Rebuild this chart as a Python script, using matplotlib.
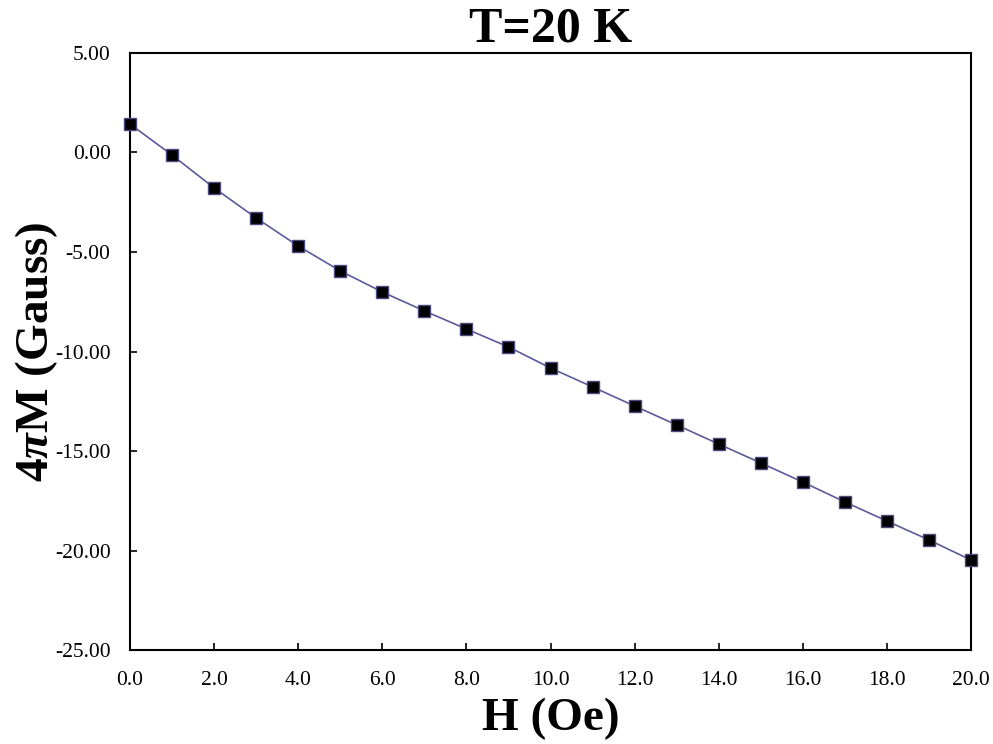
import numpy as np
import matplotlib
matplotlib.use('Agg')
import matplotlib.pyplot as plt

plt.rcParams['font.family'] = 'Liberation Serif'
plt.rcParams['mathtext.fontset'] = 'custom'
plt.rcParams['mathtext.rm'] = 'Liberation Serif:bold'
plt.rcParams['mathtext.it'] = 'Liberation Serif:italic:bold'
plt.rcParams['mathtext.bf'] = 'Liberation Serif:bold'

# field (Oe) and magnetisation 4piM (Gauss) at T = 20 K
H = [0, 1, 2, 3, 4, 5, 6, 7, 8, 9, 10, 11, 12, 13, 14, 15, 16, 17, 18, 19, 20]
M = [1.43, -0.13, -1.78, -3.29, -4.70, -5.95, -7.01, -7.96, -8.87, -9.77,
     -10.83, -11.78, -12.74, -13.69, -14.65, -15.60, -16.56, -17.56, -18.52,
     -19.47, -20.48]

x_ticks = np.arange(0, 21, 2)
y_ticks = np.arange(-25, 6, 5)

fig = plt.figure(figsize=(9.93, 7.44), dpi=100)
ax = fig.add_axes([0.1309, 0.1263, 0.8470, 0.8025])

ax.plot(H, M, color='#5a5a9c', linewidth=1.2, marker='s', markersize=8,
        markerfacecolor='black', markeredgecolor='#4a4a80', markeredgewidth=1.0,
        clip_on=False, zorder=3)

ax.set_xlim(0, 20)
ax.set_ylim(-25, 5)
ax.set_xticks(x_ticks)
ax.set_yticks(y_ticks)
ax.set_xticklabels(['%.1f' % v for v in x_ticks])
ax.set_yticklabels(['%.2f' % v for v in y_ticks])
ax.tick_params(direction='in', length=5, width=1.2, labelsize=15.5)
ax.tick_params(axis='x', pad=15)
ax.tick_params(axis='y', pad=14)
for s in ax.spines.values():
    s.set_linewidth(1.5)

ax.set_title('T=20 K', fontsize=36, fontweight='bold', pad=4)
ax.set_xlabel('H (Oe)', fontsize=34, fontweight='bold', labelpad=6)
ax.set_ylabel(r'4$\pi$M (Gauss)', fontsize=34, fontweight='bold', labelpad=-4)

fig.savefig('out.png', dpi=100)
